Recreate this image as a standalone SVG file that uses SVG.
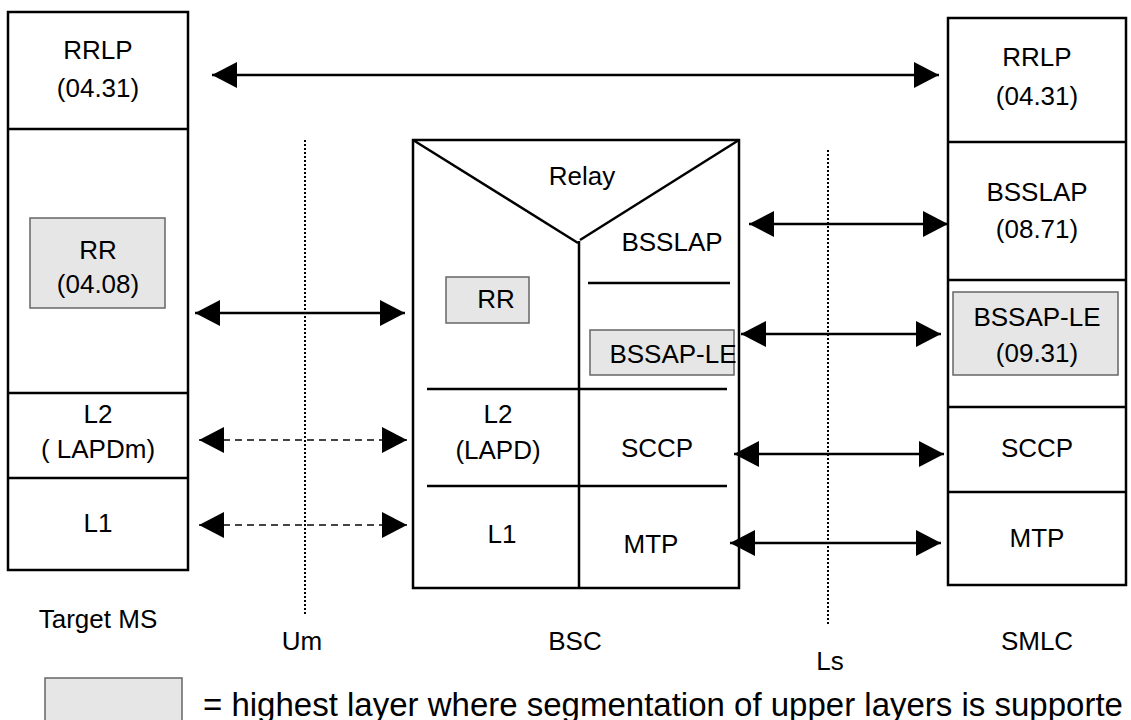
<svg xmlns="http://www.w3.org/2000/svg" width="1131" height="720" viewBox="0 0 1131 720">
<defs>
<style>
.box{fill:#fff;stroke:#000;stroke-width:2.5}
.ln{stroke:#000;stroke-width:2.5;fill:none}
.sh{fill:#e6e6e6;stroke:#666;stroke-width:1.5}
.t{font-family:"Liberation Sans",Arial,sans-serif;font-size:26px;fill:#000;text-anchor:middle}
.arr{stroke:#000;stroke-width:2.5;fill:none;marker-start:url(#ah);marker-end:url(#ah)}
.dash{stroke:#444;stroke-width:2;stroke-dasharray:7 5;fill:none;marker-start:url(#ah);marker-end:url(#ah)}
.dot{stroke:#000;stroke-width:2;stroke-dasharray:2 2;fill:none}
</style>
<marker id="ah" viewBox="0 0 25 26" refX="25" refY="13" markerWidth="25" markerHeight="26" markerUnits="userSpaceOnUse" orient="auto-start-reverse">
<path d="M0,0 L25,13 L0,26 z" fill="#000"/>
</marker>
</defs>

<g id="target-ms">
<rect class="box" x="8" y="12" width="180" height="558"/>
<line class="ln" x1="8" y1="129" x2="188" y2="129"/>
<line class="ln" x1="8" y1="393" x2="188" y2="393"/>
<line class="ln" x1="8" y1="478" x2="188" y2="478"/>
<text class="t" x="98" y="59">RRLP</text>
<text class="t" x="98" y="97">(04.31)</text>
<rect class="sh" x="30" y="218" width="135" height="90"/>
<text class="t" x="98" y="259">RR</text>
<text class="t" x="98" y="293">(04.08)</text>
<text class="t" x="98" y="423">L2</text>
<text class="t" x="98" y="458">( LAPDm)</text>
<text class="t" x="98" y="532">L1</text>
<text class="t" x="98" y="628">Target MS</text>
</g>

<g id="um">
<line class="dot" x1="305" y1="140" x2="305" y2="615"/>
<text class="t" x="302" y="650">Um</text>
</g>

<g id="bsc">
<rect class="box" x="413" y="140" width="326" height="448"/>
<polyline class="ln" points="413,140 578,243"/>
<polyline class="ln" points="739,140 580,240"/>
<line class="ln" x1="579" y1="241" x2="579" y2="588"/>
<text class="t" x="582" y="185">Relay</text>
<text class="t" x="672" y="251">BSSLAP</text>
<line class="ln" x1="588" y1="283" x2="730" y2="283"/>
<rect class="sh" x="446" y="277" width="83" height="46"/>
<text class="t" x="496" y="308">RR</text>
<rect class="sh" x="590" y="330" width="144" height="45"/>
<text class="t" x="673" y="363">BSSAP-LE</text>
<line class="ln" x1="427" y1="389" x2="727" y2="389"/>
<text class="t" x="498" y="423">L2</text>
<text class="t" x="498" y="459">(LAPD)</text>
<text class="t" x="657" y="457">SCCP</text>
<line class="ln" x1="427" y1="486" x2="727" y2="486"/>
<text class="t" x="502" y="543">L1</text>
<text class="t" x="651" y="553">MTP</text>
<text class="t" x="575" y="650">BSC</text>
</g>

<g id="ls">
<line class="dot" x1="828" y1="150" x2="828" y2="625"/>
<text class="t" x="830" y="670">Ls</text>
</g>

<g id="smlc">
<rect class="box" x="948" y="18" width="178" height="567"/>
<line class="ln" x1="948" y1="142" x2="1126" y2="142"/>
<line class="ln" x1="948" y1="280" x2="1126" y2="280"/>
<line class="ln" x1="948" y1="407" x2="1126" y2="407"/>
<line class="ln" x1="948" y1="492" x2="1126" y2="492"/>
<text class="t" x="1037" y="66">RRLP</text>
<text class="t" x="1037" y="105">(04.31)</text>
<text class="t" x="1037" y="201">BSSLAP</text>
<text class="t" x="1037" y="238">(08.71)</text>
<rect class="sh" x="953" y="292" width="165" height="83"/>
<text class="t" x="1037" y="326">BSSAP-LE</text>
<text class="t" x="1037" y="362">(09.31)</text>
<text class="t" x="1037" y="457">SCCP</text>
<text class="t" x="1037" y="547">MTP</text>
<text class="t" x="1037" y="650">SMLC</text>
</g>

<g id="connectors">
<line class="arr" x1="212" y1="75" x2="939" y2="75"/>
<line class="arr" x1="195" y1="313" x2="405" y2="313"/>
<line class="dash" x1="199" y1="440" x2="407" y2="440"/>
<line class="dash" x1="199" y1="525" x2="407" y2="525"/>
<line class="arr" x1="749" y1="224" x2="948" y2="224"/>
<line class="arr" x1="741" y1="334" x2="941" y2="334"/>
<line class="arr" x1="734" y1="454" x2="944" y2="454"/>
<line class="arr" x1="730" y1="543" x2="941" y2="543"/>
</g>

<g id="legend">
<rect class="sh" x="45" y="678" width="137" height="46"/>
<text class="t" x="203" y="716" style="text-anchor:start;font-size:33px">= highest layer where segmentation of upper layers is supporte</text>
</g>
</svg>
